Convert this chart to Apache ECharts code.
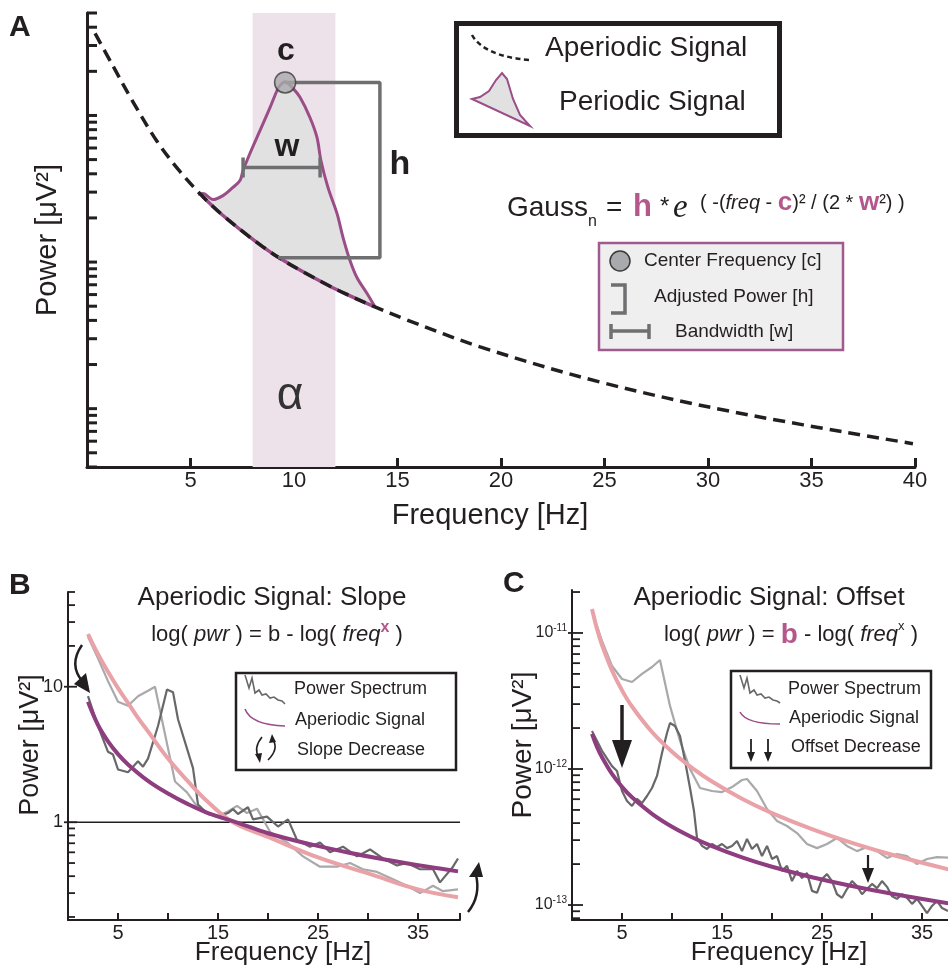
<!DOCTYPE html>
<html><head><meta charset="utf-8">
<script src="https://cdn.jsdelivr.net/npm/echarts@6/dist/echarts.min.js"></script>
<style>html,body{margin:0;padding:0;background:#fff}#c{width:948px;height:969px}</style>
</head><body><div id="c"></div>
<script>
// ---------------- DATA ----------------
// Panel A: schematic aperiodic (1/f) curve and periodic (alpha) peak
const aperiodicFreqA = [0.39, 1.26, 2.22, 3.38, 4.49, 5.60, 6.5, 7.73, 8.5, 9.32, 10.5, 11.74, 12.5, 13.82, 15.46, 18.99, 24.78, 31.21, 39.90];
const aperiodicPowA  = [363, 217, 124, 66.7, 41.5, 27.9, 21.2, 15.3, 12.7, 10.6, 8.48, 6.84, 6.07, 5.0, 4.03, 2.64, 1.52, 0.951, 0.577];
const periodicFreqA  = [5.36, 5.60, 6.09, 6.57, 7.05, 7.39, 7.54, 7.87, 8.36, 8.84, 9.18, 9.32, 9.57, 9.95, 10.29, 10.77, 11.11, 11.30, 11.64, 12.08, 12.37, 12.71, 13.04, 13.53, 13.91];
const periodicPowA   = [29.0, 29.4, 26.7, 28.4, 32.3, 36.0, 42.1, 55.0, 79.0, 113, 148, 160, 170, 153, 133, 96.9, 70.8, 49.3, 32.3, 21.4, 14.7, 10.2, 7.84, 6.10, 4.95];
const alphaBandA     = [8, 12];
const centerFreqA    = 9.57, centerPowA = 168;
const bracketFreqA   = [9.57, 14.15, 14.15, 9.23];
const bracketPowA    = [168, 168, 10.7, 10.7];
const bandwidthFreqA = [7.54, 11.26];
const bandwidthPowA  = 44.2;
const bandwidthCapA  = [37.7, 51.7];
const yTicksA = [0.4,0.5,0.6,0.7,0.8,0.9,1,2,3,4,5,6,7,8,9,10,20,30,40,50,60,70,80,90,100,200,300,400,500];

// Panel B: slope change
const lightFreqB = [2, 3, 4, 5, 6, 7, 8, 8.7, 10.7, 11.9, 12.9, 13.9, 15, 16, 16.9, 17.9, 18.9, 20.2, 21.9, 23.5, 25.2, 26.9, 28.2, 29.5, 30.9, 32.5, 33.9, 35.2, 36.5, 37.5, 39];
const lightPowB  = [23.4, 16.2, 11.0, 7.76, 7.24, 8.51, 9.33, 10.0, 2.0, 1.66, 1.31, 1.18, 1.11, 1.2, 1.32, 1.17, 1.26, 0.85, 0.71, 0.56, 0.47, 0.47, 0.50, 0.45, 0.43, 0.38, 0.34, 0.30, 0.34, 0.31, 0.32];
const darkFreqB  = [2, 3, 4, 4.5, 5, 6, 6.5, 7, 7.5, 8, 9, 9.9, 10.5, 11, 12, 12.5, 13, 14, 15, 16, 16.5, 17, 18, 18.5, 19.9, 21, 22, 22.9, 24.2, 25.2, 26.2, 27.5, 28.9, 30.2, 31.5, 32.9, 33.9, 35.2, 36.5, 37.2, 38.5, 39];
const darkPowB   = [8.51, 5.13, 3.31, 3.16, 2.45, 2.34, 2.57, 2.82, 2.57, 2.95, 5.13, 9.55, 9.12, 5.75, 3.31, 2.51, 1.35, 1.15, 1.10, 1.17, 1.25, 1.15, 1.29, 1.05, 1.10, 0.93, 1.05, 0.74, 0.66, 0.71, 0.60, 0.66, 0.56, 0.63, 0.54, 0.48, 0.50, 0.45, 0.45, 0.36, 0.47, 0.54];
const pinkFreqB  = [2, 3, 4, 5, 6, 7, 8, 10, 12, 14, 16.5, 20, 25, 30, 35, 39];
const pinkPowB   = [24.5, 17.4, 12.9, 9.77, 7.59, 5.89, 4.68, 2.95, 2.0, 1.41, 1.0, 0.78, 0.55, 0.42, 0.32, 0.28];
const purpleFreqB = [2, 3, 4, 5, 6, 8, 10, 12, 14, 17, 20, 24, 28, 32, 36, 39];
const purplePowB  = [7.74, 5.22, 3.95, 3.18, 2.67, 2.02, 1.63, 1.36, 1.17, 0.99, 0.83, 0.695, 0.598, 0.526, 0.469, 0.434];
const refLineB = 1;
const yTicksB = [0.2,0.3,0.4,0.5,0.6,0.7,0.8,0.9,1,10,20,30,40,50];
const yLabelValsB = [1, 10];
const yLabelTextB = ['1', '10'];

// Panel C: offset change
const lightFreqC = [2.5, 3, 4, 5, 6, 7, 8, 8.8, 9.8, 10.8, 11.8, 12.8, 14, 15, 16, 17, 17.5, 18.5, 19.5, 20.5, 21.5, 22.5, 23.5, 24.5, 25.5, 26.5, 27.5, 28.5, 29.5, 30.5, 31.5, 32.5, 33.5, 34.5, 35.5, 36.5, 38];
const lightPowC  = [11.25e-12, 8.73e-12, 5.72e-12, 4.59e-12, 4.36e-12, 5.0e-12, 5.62e-12, 6.33e-12, 2.91e-12, 1.61e-12, 1.0e-12, 7.25e-13, 6.89e-13, 6.77e-13, 7.37e-13, 8.30e-13, 8.44e-13, 6.89e-13, 5.08e-13, 4.15e-13, 3.81e-13, 3.38e-13, 2.81e-13, 2.62e-13, 2.81e-13, 3.11e-13, 2.72e-13, 2.49e-13, 2.67e-13, 2.49e-13, 2.22e-13, 2.37e-13, 2.29e-13, 2.00e-13, 2.18e-13, 2.25e-13, 2.22e-13];
const darkFreqC  = [2, 3, 4, 4.5, 5, 5.5, 6, 6.5, 7, 7.5, 8, 8.5, 9, 9.5, 9.8, 10.3, 10.8, 11.3, 11.8, 12.2, 12.5, 13, 13.5, 14, 14.5, 15, 15.5, 16, 16.5, 17, 17.5, 18, 18.5, 19, 19.5, 20, 20.5, 21, 21.5, 22, 22.5, 23, 23.5, 24, 24.5, 25, 25.5, 26, 26.5, 27, 27.5, 28, 28.5, 29, 29.5, 30, 30.5, 31, 31.5, 32, 32.5, 33, 33.5, 34, 34.5, 35, 35.5, 36, 36.5, 37, 37.6];
const darkPowC   = [1.90e-12, 1.36e-12, 1.05e-12, 9.67e-13, 6.89e-13, 5.82e-13, 5.35e-13, 6.02e-13, 5.62e-13, 6.33e-13, 7.25e-13, 8.89e-13, 1.31e-12, 1.84e-12, 2.18e-12, 2.07e-12, 1.75e-12, 1.15e-12, 7.25e-13, 4.91e-13, 3.11e-13, 2.72e-13, 2.58e-13, 2.81e-13, 2.67e-13, 2.81e-13, 2.62e-13, 2.72e-13, 2.96e-13, 2.49e-13, 3.06e-13, 2.58e-13, 2.81e-13, 2.29e-13, 2.72e-13, 2.18e-13, 2.29e-13, 1.78e-13, 1.94e-13, 1.50e-13, 1.78e-13, 1.58e-13, 1.72e-13, 1.27e-13, 1.23e-13, 1.55e-13, 1.69e-13, 1.50e-13, 1.20e-13, 1.13e-13, 1.31e-13, 1.50e-13, 1.38e-13, 1.20e-13, 1.31e-13, 1.43e-13, 1.33e-13, 1.50e-13, 1.36e-13, 1.16e-13, 1.11e-13, 1.20e-13, 1.13e-13, 1.02e-13, 1.11e-13, 9.84e-14, 8.73e-14, 9.84e-14, 1.07e-13, 9.51e-14, 9.04e-14];
const pinkFreqC  = [2, 2.5, 3, 4, 5, 6, 8, 10, 12, 14, 17, 20, 24, 28, 32, 38];
const pinkPowC   = [1.50e-11, 1.07e-11, 8.16e-12, 5.30e-12, 3.79e-12, 2.88e-12, 1.87e-12, 1.34e-12, 1.02e-12, 8.09e-13, 6.05e-13, 4.74e-13, 3.61e-13, 2.86e-13, 2.34e-13, 1.80e-13];
const purpleFreqC = [2, 2.5, 3, 4, 5, 6, 8, 10, 12, 14, 17, 20, 24, 28, 32, 38];
const purplePowC  = [1.81e-12, 1.45e-12, 1.22e-12, 9.19e-13, 7.39e-13, 6.19e-13, 4.68e-13, 3.76e-13, 3.15e-13, 2.71e-13, 2.24e-13, 1.91e-13, 1.60e-13, 1.38e-13, 1.21e-13, 1.02e-13];
const yTicksC = [8e-14,9e-14,1e-13,2e-13,3e-13,4e-13,5e-13,6e-13,7e-13,8e-13,9e-13,1e-12,2e-12,3e-12,4e-12,5e-12,6e-12,7e-12,8e-12,9e-12,1e-11,2e-11];
const yLabelValsC = [1e-13, 1e-12, 1e-11];
const yLabelExpC  = ['-13', '-12', '-11'];

// ---------------- STYLE ----------------
const FONT = '"Liberation Sans", Arial, Helvetica, sans-serif';
const SERIF = '"Liberation Serif", "DejaVu Serif", serif';
const INK = '#231f20';
const PURPLE = '#8e3d7f';
const PINK = '#e9a2a8';
const LGRAY = '#a9a9ab';
const DGRAY = '#68686a';
const MAUVE = '#9b4d88';
const ACCENT = '#b4578b';
const GRAYLINE = '#6f6f71';

const pairs = (xs, ys) => xs.map((x, i) => [x, ys[i]]);

function xAxisCfg(grid, max, labelFmt, lw, fs, tickLen) {
  return {gridIndex: grid, type: 'value', min: 0, max: max, interval: 5,
    axisLine: {show: true, onZero: false, lineStyle: {color: INK, width: lw}},
    axisTick: {show: true, inside: true, length: tickLen, lineStyle: {color: INK, width: lw}},
    axisLabel: {show: true, formatter: labelFmt, fontSize: fs, color: INK, fontFamily: FONT, margin: 3},
    splitLine: {show: false}};
}
function yAxisCfg(grid, min, max, lw) {
  return {gridIndex: grid, type: 'log', logBase: 10, min: min, max: max,
    axisLine: {show: true, onZero: false, lineStyle: {color: INK, width: lw}},
    axisTick: {show: false}, axisLabel: {show: false}, splitLine: {show: false}};
}
function tickSeries(idx, x0, ticks, majors, labelFn, cfg) {
  return {type: 'custom', xAxisIndex: idx, yAxisIndex: idx, silent: true, clip: false, z: 7,
    data: ticks.map(v => [x0, v]),
    renderItem: function (params, api) {
      const v = ticks[params.dataIndex];
      const p = api.coord([api.value(0), api.value(1)]);
      const mi = majors.indexOf(v);
      const isMajor = mi >= 0;
      const len = isMajor ? cfg.majorLen : cfg.len;
      const out = isMajor ? cfg.majorOut : 0;
      const children = [{type: 'line', shape: {x1: p[0] - out, y1: p[1], x2: p[0] + len, y2: p[1]},
        style: {stroke: INK, lineWidth: cfg.w}}];
      if (isMajor && labelFn) {
        const lab = labelFn(mi);
        children.push({type: 'text', x: p[0] - cfg.gap, y: p[1],
          style: Object.assign({align: 'right', verticalAlign: 'middle', fill: INK}, lab)});
      }
      return {type: 'group', children: children};
    }};
}
function line(idx, data, color, width, z, extra) {
  return Object.assign({type: 'line', xAxisIndex: idx, yAxisIndex: idx, data: data, symbol: 'none',
    silent: true, z: z, lineStyle: {color: color, width: width}}, extra || {});
}
function txt(x, y, text, size, o) {
  o = o || {};
  return {type: 'text', x: x, y: y, z: 100, silent: true, rotation: o.rot || 0,
    style: {text: text, fill: o.color || INK,
      font: (o.style || 'normal') + ' ' + (o.weight || 'normal') + ' ' + size + 'px ' + (o.family || FONT),
      align: o.align || 'left', verticalAlign: 'middle', rich: o.rich}};
}
function poly(points, stroke, lw, fill) {
  return {type: fill ? 'polygon' : 'polyline', z: 101, silent: true, shape: {points: points},
    style: {stroke: stroke, lineWidth: lw, fill: fill || null}};
}
function tri(a, b, c, color) {
  return {type: 'polygon', z: 101, silent: true, shape: {points: [a, b, c]}, style: {fill: color || INK}};
}
function curve(x1, y1, cx, cy, x2, y2, color, lw, dash) {
  return {type: 'bezierCurve', z: 101, silent: true, shape: {x1: x1, y1: y1, cpx1: cx, cpy1: cy, x2: x2, y2: y2},
    style: {stroke: color || INK, lineWidth: lw, fill: null, lineDash: dash || null}};
}

// periodic segment of aperiodic curve
const underFreq = [], underPow = [];
aperiodicFreqA.forEach((f, i) => { if (f >= periodicFreqA[0] && f <= periodicFreqA[periodicFreqA.length - 1]) { underFreq.push(f); underPow.push(aperiodicPowA[i]); } });

const series = [
  // ---- A ----
  {type: 'custom', xAxisIndex: 0, yAxisIndex: 0, silent: true, z: 2,
    data: [[periodicFreqA[0], periodicPowA[0]]],
    renderItem: function (params, api) {
      const pts = periodicFreqA.map((f, i) => api.coord([f, periodicPowA[i]]));
      for (let i = underFreq.length - 1; i >= 0; i--) pts.push(api.coord([underFreq[i], underPow[i]]));
      return {type: 'polygon', shape: {points: pts}, style: {fill: '#e1e1e2'}};
    }},
  line(0, pairs(underFreq, underPow), MAUVE, 3.5, 3, {smooth: 0.35}),
  line(0, pairs(periodicFreqA, periodicPowA), MAUVE, 3, 4, {smooth: 0.35}),
  line(0, pairs(aperiodicFreqA, aperiodicPowA), INK, 3.5, 5, {smooth: 0.35,
    lineStyle: {color: INK, width: 3.5, type: [12, 7]},
    markArea: {silent: true, itemStyle: {color: '#eee2ea'}, data: [[{xAxis: alphaBandA[0]}, {xAxis: alphaBandA[1]}]]}}),
  line(0, pairs(bracketFreqA, bracketPowA), GRAYLINE, 3.5, 6),
  line(0, [[bandwidthFreqA[0], bandwidthPowA], [bandwidthFreqA[1], bandwidthPowA]], GRAYLINE, 3.5, 6),
  line(0, [[bandwidthFreqA[0], bandwidthCapA[0]], [bandwidthFreqA[0], bandwidthCapA[1]]], GRAYLINE, 3.5, 6),
  line(0, [[bandwidthFreqA[1], bandwidthCapA[0]], [bandwidthFreqA[1], bandwidthCapA[1]]], GRAYLINE, 3.5, 6),
  {type: 'scatter', xAxisIndex: 0, yAxisIndex: 0, silent: true, z: 8, data: [[centerFreqA, centerPowA]],
    symbolSize: 21, itemStyle: {color: '#a9aaad', borderColor: '#3a3a3a', borderWidth: 1.5}},
  tickSeries(0, 0, yTicksA, [], null, {len: 10, majorLen: 10, majorOut: 0, w: 3, gap: 0}),
  // ---- B ----
  line(1, [[0, refLineB], [39.2, refLineB]], INK, 1.5, 2),
  line(1, pairs(lightFreqB, lightPowB), LGRAY, 2.2, 3),
  line(1, pairs(darkFreqB, darkPowB), DGRAY, 2.2, 3),
  line(1, pairs(pinkFreqB, pinkPowB), PINK, 4, 4, {smooth: 0.4}),
  line(1, pairs(purpleFreqB, purplePowB), PURPLE, 4, 4, {smooth: 0.4}),
  tickSeries(1, 0, yTicksB, yLabelValsB, i => ({text: yLabelTextB[i], font: '18px ' + FONT}),
    {len: 7, majorLen: 9, majorOut: 4, w: 1.8, gap: 5}),
  // ---- C ----
  line(2, pairs(lightFreqC, lightPowC), LGRAY, 2.2, 3),
  line(2, pairs(darkFreqC, darkPowC), DGRAY, 2.2, 3),
  line(2, pairs(pinkFreqC, pinkPowC), PINK, 4, 4, {smooth: 0.4}),
  line(2, pairs(purpleFreqC, purplePowC), PURPLE, 4, 4, {smooth: 0.4}),
  tickSeries(2, 0, yTicksC, yLabelValsC, i => ({text: '{m|10}{s|' + yLabelExpC[i] + '}',
      rich: {m: {fontSize: 16, fontFamily: FONT, fill: INK, lineHeight: 20},
             s: {fontSize: 10, fontFamily: FONT, fill: INK, verticalAlign: 'top'}}}),
    {len: 8, majorLen: 11, majorOut: 4, w: 1.8, gap: 5})
];

const graphics = [
  // panel letters
  txt(9, 28, 'A', 30, {weight: 'bold'}),
  txt(9, 586, 'B', 30, {weight: 'bold'}),
  txt(503, 584, 'C', 30, {weight: 'bold'}),
  // A axis titles
  txt(48, 240, 'Power [μV²]', 29, {align: 'center', rot: Math.PI / 2}),
  txt(490, 516, 'Frequency [Hz]', 29, {align: 'center'}),
  // A annotations
  txt(286, 51, 'c', 32, {weight: 'bold', align: 'center'}),
  txt(287, 147, 'w', 32, {weight: 'bold', align: 'center'}),
  txt(400, 165, 'h', 34, {weight: 'bold', align: 'center'}),
  txt(290, 396, 'α', 46, {align: 'center', color: '#333'}),
  // legend 1
  {type: 'rect', z: 99, silent: true, shape: {x: 456.5, y: 23.5, width: 323, height: 112}, style: {fill: '#fff', stroke: INK, lineWidth: 5}},
  curve(472, 35, 484, 56, 529, 60, INK, 2.5, [5, 3.5]),
  poly([[472, 99], [480, 97], [489, 91], [496, 80], [502, 73], [507, 79], [513, 99], [520, 115], [530, 126]], MAUVE, 2, '#e1e1e2'),
  txt(545, 48, 'Aperiodic Signal', 28),
  txt(559, 102, 'Periodic Signal', 28),
  // formula
  txt(507, 208, 'Gauss', 28),
  txt(588, 222, 'n', 16),
  txt(606, 208, '=', 28),
  txt(633, 207, 'h', 31, {weight: 'bold', color: ACCENT}),
  txt(660, 207, '*', 24),
  txt(673, 208, 'e', 33, {style: 'italic', family: SERIF}),
  txt(700, 203, '{n|( -(}{i|freq}{n| - }{c|c}{n|)² / (2 * }{c|w}{n|²) )}', 20, {rich: {
    n: {fontSize: 20, fontFamily: FONT, fill: INK},
    i: {fontSize: 20, fontFamily: FONT, fontStyle: 'italic', fill: INK},
    c: {fontSize: 26, fontFamily: FONT, fontWeight: 'bold', fill: ACCENT}}}),
  // legend 2
  {type: 'rect', z: 99, silent: true, shape: {x: 599, y: 243, width: 244, height: 107}, style: {fill: '#efefef', stroke: '#a05a8f', lineWidth: 2.5}},
  {type: 'circle', z: 101, silent: true, shape: {cx: 620, cy: 261, r: 10}, style: {fill: '#a9aaad', stroke: '#3a3a3a', lineWidth: 1.5}},
  poly([[611, 285], [625, 285], [625, 313], [611, 313]], GRAYLINE, 3.5),
  poly([[610, 331], [650, 331]], GRAYLINE, 3.5),
  poly([[611, 324], [611, 339]], GRAYLINE, 3.5),
  poly([[649, 324], [649, 339]], GRAYLINE, 3.5),
  txt(644, 261, 'Center Frequency [c]', 19),
  txt(654, 297, 'Adjusted Power [h]', 19),
  txt(675, 332, 'Bandwidth [w]', 19),

  // ---- B ----
  txt(272, 598, 'Aperiodic Signal: Slope', 26, {align: 'center'}),
  txt(277, 635, '{n|log( }{i|pwr}{n| ) = b - log( }{i|freq}{x|x}{n| )}', 22, {align: 'center', rich: {
    n: {fontSize: 22, fontFamily: FONT, fill: INK, lineHeight: 30},
    i: {fontSize: 22, fontFamily: FONT, fontStyle: 'italic', fill: INK, lineHeight: 30},
    x: {fontSize: 16, fontFamily: FONT, fontWeight: 'bold', fill: ACCENT, verticalAlign: 'top'}}}),
  txt(30.5, 745, 'Power [μV²]', 27, {align: 'center', rot: Math.PI / 2}),
  txt(283, 953, 'Frequency [Hz]', 26, {align: 'center'}),
  {type: 'rect', z: 99, silent: true, shape: {x: 236, y: 673, width: 220, height: 97}, style: {fill: '#fff', stroke: INK, lineWidth: 2.5}},
  poly([[245, 675], [249, 688], [252, 678], [255, 693], [259, 690], [262, 695], [266, 694], [270, 698], [274, 697], [278, 700], [282, 701], [285, 704]], DGRAY, 1.6),
  curve(245, 709, 251, 725, 285, 726, MAUVE, 1.6),
  curve(262, 737, 253, 748, 259, 758, INK, 1.6),
  tri([260, 763], [255, 754], [262, 753]),
  curve(268, 760, 279, 749, 273, 740, INK, 1.6),
  tri([272, 734], [269, 743], [276, 742]),
  txt(294, 689, 'Power Spectrum', 18),
  txt(295, 720, 'Aperiodic Signal', 18),
  txt(297, 750, 'Slope Decrease', 18),
  // B annotation arrows
  curve(82, 645, 68, 665, 83, 682, INK, 2.5),
  tri([90, 693], [74, 684], [86, 673]),
  curve(468, 912, 481, 896, 476, 875, INK, 2.5),
  tri([479, 862], [469, 877], [483, 877]),

  // ---- C ----
  txt(769, 598, 'Aperiodic Signal: Offset', 26, {align: 'center'}),
  txt(791, 635, '{n|log( }{i|pwr}{n| ) = }{b|b}{n| - log( }{i|freq}{x|x}{n| )}', 22, {align: 'center', rich: {
    n: {fontSize: 22, fontFamily: FONT, fill: INK, lineHeight: 30},
    i: {fontSize: 22, fontFamily: FONT, fontStyle: 'italic', fill: INK, lineHeight: 30},
    b: {fontSize: 28, fontFamily: FONT, fontWeight: 'bold', fill: ACCENT, lineHeight: 30},
    x: {fontSize: 13, fontFamily: FONT, fill: INK, verticalAlign: 'top'}}}),
  txt(523.5, 745, 'Power [μV²]', 28, {align: 'center', rot: Math.PI / 2}),
  txt(779, 953, 'Frequency [Hz]', 26, {align: 'center'}),
  {type: 'rect', z: 99, silent: true, shape: {x: 731, y: 671, width: 200, height: 97}, style: {fill: '#fff', stroke: INK, lineWidth: 2.5}},
  poly([[740, 675], [744, 688], [747, 678], [750, 693], [754, 690], [757, 695], [761, 694], [765, 698], [769, 697], [773, 700], [777, 701], [780, 703]], DGRAY, 1.6),
  curve(740, 712, 746, 724, 780, 724, MAUVE, 1.6),
  poly([[751, 739], [751, 754]], INK, 1.8),
  tri([751, 762], [747, 752], [755, 752]),
  poly([[768, 739], [768, 754]], INK, 1.8),
  tri([768, 762], [764, 752], [772, 752]),
  txt(788, 689, 'Power Spectrum', 18),
  txt(789, 718, 'Aperiodic Signal', 18),
  txt(791, 747, 'Offset Decrease', 18),
  // C annotation arrows
  poly([[622, 705], [622, 742]], INK, 3.5),
  tri([622, 768], [612, 740], [632, 740]),
  poly([[868, 855], [868, 870]], INK, 2.2),
  tri([868, 883], [862, 868], [874, 868])
];

const option = {
  animation: false,
  backgroundColor: '#ffffff',
  textStyle: {fontFamily: FONT},
  grid: [
    {left: 87, top: 13, width: 828, height: 454, outerBoundsMode: 'none'},
    {left: 68, top: 592, width: 392, height: 328, outerBoundsMode: 'none'},
    {left: 572, top: 590, width: 400, height: 330, outerBoundsMode: 'none'}
  ],
  xAxis: [
    xAxisCfg(0, 40, v => (v === 0 ? '' : String(v)), 3, 22, 9),
    xAxisCfg(1, 39.2, v => (v % 10 === 5 ? String(v) : ''), 2, 20, 7),
    xAxisCfg(2, 40, v => (v % 10 === 5 ? String(v) : ''), 2, 20, 7)
  ],
  yAxis: [
    yAxisCfg(0, 0.4, 500, 3),
    yAxisCfg(1, 0.19, 50, 2),
    yAxisCfg(2, 7.76e-14, 2.07e-11, 2)
  ],
  series: series,
  graphic: {elements: graphics}
};

const chart = echarts.init(document.getElementById('c'), null, {renderer: 'canvas', width: 948, height: 969});
chart.setOption(option);
</script></body></html>
